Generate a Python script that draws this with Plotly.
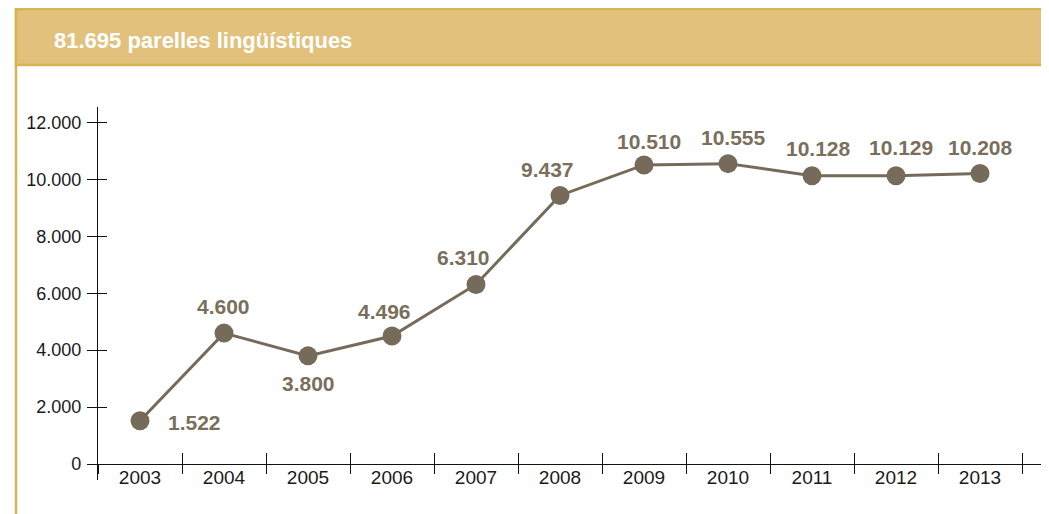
import plotly.graph_objects as go

years = ["2003", "2004", "2005", "2006", "2007", "2008", "2009", "2010", "2011", "2012", "2013"]
pairs = [1522, 4600, 3800, 4496, 6310, 9437, 10510, 10555, 10128, 10129, 10208]
y_ticks = [0, 2000, 4000, 6000, 8000, 10000, 12000]
title_text = "81.695 parelles lingüístiques"

# label offsets in px (dx, dy up)
label_shift = [(54, -2), (-1, 27), (0, -28), (-8, 25), (-13, 27), (-13, 26),
               (5, 23), (5, 26), (6, 27), (5, 28), (0, 26)]

# page offset due to default body margin
OX, OY = 8, 8
PW, PH = 1049, 514
W, H = PW - OX, PH - OY
L, T = 98 - OX, 107 - OY
R, B = PW - 1041, PH - 480
pw, ph = W - L - R, H - T - B

line_col = "#766B5A"
label_col = "#7A6F5C"
gold = "#D9B452"
header_fill = "#E1C17B"
axis_col = "#111111"
font_fam = "Liberation Sans, Arial, sans-serif"

n = len(years)
xr = [-0.5, -0.5 + pw / 84.0]
yr = [-562, 12545]
xpos = (0 - yr[0]) / (yr[1] - yr[0])

def px_x(p):
    return (p - OX - L) / pw

def px_y(p):
    return (PH - B - p) / ph

fig = go.Figure()
fig.add_trace(go.Scatter(
    x=years, y=pairs, mode="lines+markers",
    line=dict(color=line_col, width=3),
    marker=dict(color=line_col, size=19),
    hoverinfo="skip", showlegend=False,
))
fig.add_trace(go.Scatter(
    x=list(range(n)), y=pairs, xaxis="x2", yaxis="y2", mode="lines",
    line=dict(width=0, color="rgba(0,0,0,0)"), hoverinfo="skip", showlegend=False,
))

annotations = []
for i, (v, (dx, dy)) in enumerate(zip(pairs, label_shift)):
    annotations.append(dict(
        x=i, y=v, xref="x2", yref="y2", text="<b>" + f"{v:,}".replace(",", ".") + "</b>",
        showarrow=False, xshift=dx, yshift=dy,
        font=dict(family=font_fam, size=21, color=label_col),
    ))
annotations.append(dict(
    x=px_x(52), y=px_y(40), xref="paper", yref="paper", text="<b>" + title_text + "</b>",
    showarrow=False, xanchor="left", yanchor="middle",
    font=dict(family=font_fam, size=22, color="white"),
))

shapes = [
    dict(type="rect", xref="paper", yref="paper",
         x0=px_x(16), x1=px_x(1044), y0=px_y(530), y1=px_y(9),
         line=dict(color=gold, width=2.5), fillcolor="rgba(0,0,0,0)", layer="below"),
    dict(type="rect", xref="paper", yref="paper",
         x0=px_x(16), x1=px_x(1044), y0=px_y(65), y1=px_y(9),
         line=dict(color=gold, width=2.5), fillcolor=header_fill, layer="below"),
]

fig.update_layout(
    width=W, height=H,
    margin=dict(l=L, r=R, t=T, b=B, pad=0),
    paper_bgcolor="white", plot_bgcolor="white",
    separators=",.",
    font=dict(family=font_fam, size=17, color="#1a1a1a"),
    xaxis=dict(
        type="category", range=xr, anchor="free", position=xpos,
        showgrid=False, zeroline=False, showline=True, linecolor=axis_col, linewidth=1.2,
        ticks="inside", tickson="boundaries", ticklen=11, tickwidth=1.2, tickcolor=axis_col,
        tickfont=dict(size=19, color="#1a1a1a"), ticklabelstandoff=-4, fixedrange=True,
    ),
    xaxis2=dict(
        type="linear", range=xr, overlaying="x", anchor="free", position=xpos,
        showgrid=False, zeroline=False, showline=False, showticklabels=False,
        tickmode="array", tickvals=[i - 0.5 for i in range(n + 1)],
        ticks="outside", ticklen=9, tickwidth=1.2, tickcolor=axis_col,
    ),
    yaxis=dict(
        range=yr, showgrid=False, zeroline=False, showline=True, linecolor=axis_col, linewidth=1.2,
        tickmode="array", tickvals=y_ticks, tickformat=",d",
        ticks="outside", ticklen=10, tickwidth=1.2, tickcolor=axis_col,
        tickfont=dict(size=18, color="#1a1a1a"), ticklabelstandoff=2,
    ),
    yaxis2=dict(
        range=yr, overlaying="y", anchor="x2", side="left",
        showgrid=False, zeroline=False, showline=False, showticklabels=False,
        tickmode="array", tickvals=y_ticks,
        ticks="inside", ticklen=9, tickwidth=1.2, tickcolor=axis_col,
    ),
    annotations=annotations,
    shapes=shapes,
)

fig.write_html("out.html")
